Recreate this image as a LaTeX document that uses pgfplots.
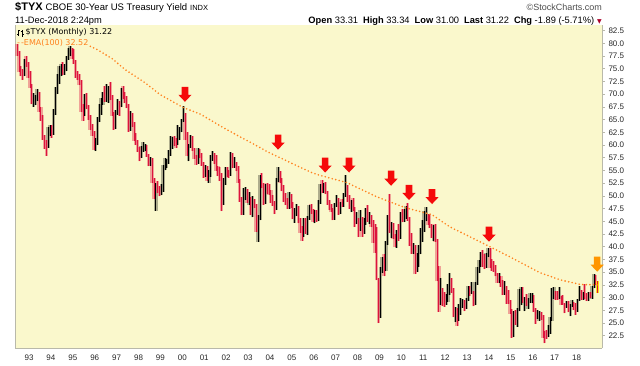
\documentclass[border=0pt]{standalone}
\usepackage{fontspec}
\setmainfont{Liberation Sans}
\newfontfamily\dejavu{DejaVu Sans}
\usepackage{pgfplots}
\pgfplotsset{compat=1.18}
\usepackage{pgfplotstable}
\definecolor{chartbg}{RGB}{250,248,204}
\definecolor{framecol}{RGB}{185,185,170}
\definecolor{upband}{RGB}{100,100,80}
\definecolor{downband}{RGB}{230,80,100}
\definecolor{downline}{RGB}{220,20,60}
\definecolor{lastband}{RGB}{255,225,0}
\definecolor{arrowred}{RGB}{245,10,10}
\definecolor{arroworange}{RGB}{255,150,0}
\definecolor{emacol}{RGB}{255,130,30}
\definecolor{trired}{RGB}{170,0,40}

\pgfdeclareplotmark{darrow}{%
  \pgfpathmoveto{\pgfpoint{0pt}{0pt}}%
  \pgfpathlineto{\pgfpoint{6.6pt}{7pt}}%
  \pgfpathlineto{\pgfpoint{3.3pt}{7pt}}%
  \pgfpathlineto{\pgfpoint{3.3pt}{15pt}}%
  \pgfpathlineto{\pgfpoint{-3.3pt}{15pt}}%
  \pgfpathlineto{\pgfpoint{-3.3pt}{7pt}}%
  \pgfpathlineto{\pgfpoint{-6.6pt}{7pt}}%
  \pgfpathclose
  \pgfusepathqfill}

\pgfplotstableread{
t o h l c
1992.46 79.5 79.9 77.6 78.0
1992.54 78.0 78.4 74.3 74.8
1992.62 74.8 75.6 73.5 74.2
1992.71 74.2 75.0 72.8 73.9
1992.79 73.9 77.0 73.5 76.5
1992.87 76.5 77.6 75.4 76.0
1992.96 76.0 76.3 73.2 73.8
1993.04 73.8 74.5 71.2 71.8
1993.12 71.8 72.0 68.0 68.5
1993.21 68.5 70.3 67.5 69.0
1993.29 69.0 69.9 67.8 69.3
1993.37 69.3 71.0 68.6 70.2
1993.46 70.2 70.5 66.5 66.8
1993.54 66.8 67.4 64.8 65.8
1993.62 65.8 66.0 61.0 61.5
1993.71 61.5 62.0 59.2 60.2
1993.79 60.2 61.0 57.9 59.8
1993.87 59.8 63.6 59.4 62.8
1993.96 62.8 64.0 61.8 63.5
1994.04 63.5 64.0 61.4 62.5
1994.12 62.5 67.0 62.0 66.5
1994.21 66.5 71.5 66.0 70.8
1994.29 70.8 74.0 70.0 73.0
1994.37 73.0 75.5 72.0 74.3
1994.46 74.3 76.0 73.5 75.5
1994.54 75.5 76.3 73.7 74.2
1994.62 74.2 75.9 73.8 75.0
1994.71 75.0 77.6 74.5 77.2
1994.79 77.2 79.0 76.8 78.2
1994.87 78.2 79.5 77.5 78.6
1994.96 78.6 79.0 77.0 78.0
1995.04 78.0 78.8 76.0 76.5
1995.12 76.5 76.8 73.2 73.8
1995.21 73.8 74.6 72.8 73.5
1995.29 73.5 74.0 71.8 72.5
1995.37 72.5 72.8 66.5 67.0
1995.46 67.0 68.0 64.8 66.2
1995.54 66.2 70.0 65.8 69.5
1995.62 69.5 70.2 67.0 67.5
1995.71 67.5 67.9 65.0 65.5
1995.79 65.5 66.0 63.0 63.5
1995.87 63.5 64.1 61.8 62.5
1995.96 62.5 62.8 59.0 59.5
1996.04 59.5 61.4 58.8 60.5
1996.12 60.5 65.5 60.0 65.0
1996.21 65.0 68.0 64.5 66.5
1996.29 66.5 69.2 66.0 68.5
1996.37 68.5 70.5 67.9 69.5
1996.46 69.5 71.6 68.5 68.9
1996.54 68.9 72.0 68.4 69.8
1996.62 69.8 71.6 68.3 70.8
1996.71 70.8 72.3 68.8 69.3
1996.79 69.3 69.8 65.8 66.3
1996.87 66.3 66.5 63.0 63.5
1996.96 63.5 66.9 63.1 66.5
1997.04 66.5 69.0 66.0 68.0
1997.12 68.0 68.6 65.8 67.8
1997.21 67.8 71.3 67.4 70.9
1997.29 70.9 71.6 69.0 69.5
1997.37 69.5 70.5 68.2 69.1
1997.46 69.1 69.6 67.2 67.8
1997.54 67.8 68.0 62.6 63.0
1997.62 63.0 66.6 62.8 66.0
1997.71 66.0 66.3 63.6 64.0
1997.79 64.0 64.5 60.8 61.5
1997.87 61.5 62.3 60.0 60.8
1997.96 60.8 61.0 58.6 59.2
1998.04 59.2 59.6 56.8 58.0
1998.12 58.0 59.8 57.5 59.2
1998.21 59.2 60.5 58.7 59.4
1998.29 59.4 60.2 58.8 59.5
1998.37 59.5 60.0 57.7 58.0
1998.46 58.0 58.3 55.8 56.3
1998.54 56.3 57.7 55.9 57.2
1998.62 57.2 57.5 52.6 53.0
1998.71 53.0 53.5 49.3 49.8
1998.79 49.8 52.6 47.1 51.6
1998.87 51.6 53.0 50.5 51.2
1998.96 51.2 51.9 49.9 50.9
1999.04 50.9 52.4 50.1 51.0
1999.12 51.0 56.1 50.8 55.7
1999.21 55.7 57.5 55.0 56.2
1999.29 56.2 57.2 55.4 56.6
1999.37 56.6 59.0 56.3 58.1
1999.46 58.1 61.8 57.9 59.7
1999.54 59.7 61.5 59.2 60.9
1999.62 60.9 61.8 59.8 60.6
1999.71 60.6 61.4 59.5 60.5
1999.79 60.5 63.9 60.1 61.6
1999.87 61.6 63.5 60.9 62.9
1999.96 62.9 65.2 62.5 64.8
2000.04 64.8 67.6 64.5 66.0
2000.12 66.0 66.3 61.0 61.5
2000.21 61.5 62.5 57.8 58.3
2000.29 58.3 60.3 56.8 59.6
2000.37 59.6 62.0 59.4 61.3
2000.46 61.3 61.7 58.8 59.0
2000.54 59.0 59.5 57.3 57.8
2000.62 57.8 58.0 56.1 56.7
2000.71 56.7 59.4 56.3 58.8
2000.79 58.8 59.3 57.4 57.9
2000.87 57.9 58.4 55.9 56.3
2000.96 56.3 56.7 53.6 54.6
2001.04 54.6 56.0 53.8 55.0
2001.12 55.0 55.9 53.0 53.3
2001.21 53.3 55.1 52.6 54.5
2001.29 54.5 58.0 53.8 57.6
2001.37 57.6 58.9 56.9 58.1
2001.46 58.1 58.5 56.3 57.5
2001.54 57.5 58.0 54.9 55.2
2001.62 55.2 55.8 53.9 54.3
2001.71 54.3 55.7 52.9 54.2
2001.79 54.2 54.6 47.0 48.8
2001.87 48.8 53.6 48.2 52.9
2001.96 52.9 55.6 52.2 54.7
2002.04 54.7 55.6 53.7 54.3
2002.12 54.3 55.0 53.6 54.2
2002.21 54.2 58.6 53.9 58.0
2002.29 58.0 58.4 55.4 56.0
2002.37 56.0 57.6 55.5 56.2
2002.46 56.2 56.6 54.8 55.2
2002.54 55.2 55.9 52.6 53.0
2002.62 53.0 53.4 48.9 49.3
2002.71 49.3 49.8 46.2 46.7
2002.79 46.7 51.5 46.3 49.8
2002.87 49.8 51.7 49.2 50.4
2002.96 50.4 51.3 48.6 49.1
2003.04 49.1 50.7 48.2 49.5
2003.12 49.5 49.8 46.2 46.7
2003.21 46.7 50.0 45.8 48.2
2003.29 48.2 49.4 47.6 48.1
2003.37 48.1 48.4 43.0 43.6
2003.46 43.6 46.2 41.0 45.6
2003.54 45.6 54.2 45.2 53.6
2003.62 53.6 54.5 51.5 52.2
2003.71 52.2 52.6 48.3 48.8
2003.79 48.8 52.4 48.4 51.5
2003.87 51.5 52.6 50.4 51.1
2003.96 51.1 52.4 50.1 50.7
2004.04 50.7 51.2 48.6 49.4
2004.12 49.4 50.2 48.0 48.6
2004.21 48.6 49.0 46.4 47.6
2004.29 47.6 53.6 47.2 53.1
2004.37 53.1 55.7 52.8 53.4
2004.46 53.4 54.8 52.5 53.1
2004.54 53.1 53.5 50.9 51.3
2004.62 51.3 52.1 48.8 49.3
2004.71 49.3 50.5 48.2 48.9
2004.79 48.9 49.6 47.5 47.9
2004.87 47.9 50.8 47.4 50.0
2004.96 50.0 50.4 47.7 48.2
2005.04 48.2 48.8 45.4 45.9
2005.12 45.9 47.6 44.7 46.6
2005.21 46.6 48.4 46.0 47.5
2005.29 47.5 48.1 44.6 45.1
2005.37 45.1 45.6 42.8 43.2
2005.46 43.2 44.0 41.2 42.1
2005.54 42.1 45.7 41.9 45.2
2005.62 45.2 45.7 42.6 43.0
2005.71 43.0 46.1 42.3 45.6
2005.79 45.6 48.2 45.3 47.5
2005.87 47.5 48.5 46.5 47.2
2005.96 47.2 47.5 44.9 45.4
2006.04 45.4 47.2 44.6 46.8
2006.12 46.8 47.2 44.9 45.3
2006.21 45.3 49.2 45.0 48.7
2006.29 48.7 52.3 48.5 51.7
2006.37 51.7 53.2 50.6 51.4
2006.46 51.4 52.6 50.5 51.9
2006.54 51.9 52.8 50.3 50.7
2006.62 50.7 51.0 48.3 48.8
2006.71 48.8 49.2 47.3 47.7
2006.79 47.7 48.5 46.8 47.2
2006.87 47.2 47.6 45.2 45.6
2006.96 45.6 48.6 45.3 48.1
2007.04 48.1 50.1 47.8 49.0
2007.12 49.0 49.6 46.3 46.8
2007.21 46.8 48.9 46.4 48.4
2007.29 48.4 49.4 47.8 48.1
2007.37 48.1 50.5 47.9 50.1
2007.46 50.1 54.2 49.8 51.2
2007.54 51.2 52.2 48.8 49.2
2007.62 49.2 50.2 47.4 48.3
2007.71 48.3 49.2 46.8 48.4
2007.79 48.4 49.5 47.0 47.5
2007.87 47.5 47.8 43.9 44.9
2007.96 44.9 46.9 44.4 45.2
2008.04 45.2 45.6 41.9 43.4
2008.12 43.4 47.2 43.1 44.4
2008.21 44.4 45.8 42.0 42.9
2008.29 42.9 45.7 42.6 44.8
2008.37 44.8 47.6 44.3 47.1
2008.46 47.1 48.2 44.9 45.3
2008.54 45.3 46.8 44.5 45.9
2008.62 45.9 46.3 43.9 44.3
2008.71 44.3 45.2 40.8 43.1
2008.79 43.1 44.4 38.8 40.4
2008.87 40.4 43.9 33.4 33.6
2008.96 33.6 33.8 25.0 26.9
2009.04 26.9 36.0 26.0 35.8
2009.12 35.8 37.9 34.8 36.9
2009.21 36.9 38.5 34.2 35.6
2009.29 35.6 41.1 35.2 40.8
2009.37 40.8 46.3 40.4 43.3
2009.46 43.3 50.4 42.7 43.2
2009.54 43.2 44.9 41.8 43.3
2009.62 43.3 44.7 41.5 41.8
2009.71 41.8 42.5 39.9 40.5
2009.79 40.5 43.3 39.8 42.4
2009.87 42.4 44.4 41.1 41.7
2009.96 41.7 46.8 41.5 46.4
2010.04 46.4 47.4 44.8 45.0
2010.12 45.0 47.4 44.8 45.7
2010.21 45.7 48.0 45.5 47.1
2010.29 47.1 48.6 45.1 45.3
2010.37 45.3 45.9 40.2 42.2
2010.46 42.2 42.8 38.6 38.9
2010.54 38.9 40.7 38.6 39.9
2010.62 39.9 40.3 34.6 35.2
2010.71 35.2 38.8 35.0 36.8
2010.79 36.8 40.4 36.1 39.9
2010.87 39.9 43.6 38.5 41.1
2010.96 41.1 45.2 41.0 43.4
2011.04 43.4 47.0 42.9 45.1
2011.12 45.1 47.9 45.0 46.1
2011.21 46.1 46.5 44.2 45.1
2011.29 45.1 46.5 43.6 43.9
2011.37 43.9 44.4 41.8 42.2
2011.46 42.2 44.2 41.2 43.8
2011.54 43.8 44.4 40.9 41.2
2011.62 41.2 41.5 33.2 36.0
2011.71 36.0 36.2 27.2 29.1
2011.79 29.1 33.8 28.6 31.5
2011.87 31.5 31.9 28.3 30.0
2011.96 30.0 31.2 28.2 28.9
2012.04 28.9 30.8 28.6 29.4
2012.12 29.4 32.6 29.2 30.9
2012.21 30.9 34.8 30.5 33.4
2012.29 33.4 33.8 30.9 31.2
2012.37 31.2 31.8 26.1 26.4
2012.46 26.4 28.2 25.3 27.5
2012.54 27.5 27.9 24.4 25.6
2012.62 25.6 28.8 25.4 26.7
2012.71 26.7 29.9 26.6 28.2
2012.79 28.2 29.7 28.0 29.1
2012.87 29.1 29.5 27.3 28.1
2012.96 28.1 29.9 27.8 29.5
2013.04 29.5 32.2 29.3 31.7
2013.12 31.7 32.3 30.3 30.9
2013.21 30.9 33.0 30.7 31.0
2013.29 31.0 31.3 28.3 28.9
2013.37 28.9 33.0 28.5 32.7
2013.46 32.7 36.0 32.5 35.0
2013.54 35.0 37.4 34.8 36.4
2013.62 36.4 38.9 36.1 37.0
2013.71 37.0 39.3 36.0 36.9
2013.79 36.9 38.6 35.6 36.2
2013.87 36.2 38.8 35.9 38.1
2013.96 38.1 39.8 37.9 39.7
2014.04 39.7 39.8 35.8 36.0
2014.12 36.0 37.6 35.3 35.9
2014.21 35.9 37.3 35.1 35.6
2014.29 35.6 36.5 34.2 34.7
2014.37 34.7 34.9 32.9 33.3
2014.46 33.3 34.9 32.8 33.6
2014.54 33.6 34.2 32.1 33.2
2014.62 33.2 33.5 30.5 30.8
2014.71 30.8 33.3 30.6 32.0
2014.79 32.0 32.2 28.8 30.7
2014.87 30.7 31.5 28.8 28.9
2014.96 28.9 29.5 26.8 27.5
2015.04 27.5 27.8 22.1 22.5
2015.12 22.5 27.4 22.2 25.9
2015.21 25.9 27.6 24.6 25.4
2015.29 25.4 27.9 24.3 27.5
2015.37 27.5 31.7 27.3 28.8
2015.46 28.8 32.1 28.5 31.2
2015.54 31.2 32.1 28.9 29.2
2015.62 29.2 30.1 27.3 29.5
2015.71 29.5 30.8 28.4 28.7
2015.79 28.7 29.9 27.8 29.2
2015.87 29.2 31.0 29.0 29.8
2015.96 29.8 30.9 28.9 30.2
2016.04 30.2 30.5 27.2 27.5
2016.12 27.5 28.0 24.9 26.1
2016.21 26.1 27.6 25.9 26.2
2016.29 26.2 27.4 25.4 26.6
2016.37 26.6 27.2 25.7 26.4
2016.46 26.4 26.6 22.1 22.9
2016.54 22.9 23.4 21.0 22.8
2016.62 22.8 23.6 21.9 22.3
2016.71 22.3 24.7 22.2 23.2
2016.79 23.2 26.2 22.9 25.8
2016.87 25.8 31.9 25.5 30.2
2016.96 30.2 32.0 29.7 30.7
2017.04 30.7 31.3 29.5 30.6
2017.12 30.6 31.4 29.6 30.0
2017.21 30.0 32.0 29.7 30.1
2017.29 30.1 30.4 28.6 29.6
2017.37 29.6 30.6 28.6 28.7
2017.46 28.7 28.9 26.9 28.4
2017.54 28.4 29.4 28.0 29.0
2017.62 29.0 29.3 27.1 27.3
2017.71 27.3 28.8 26.3 28.6
2017.79 28.6 29.5 28.2 28.8
2017.87 28.8 29.2 27.5 28.3
2017.96 28.3 28.9 26.6 27.4
2018.04 27.4 29.7 27.2 29.5
2018.12 29.5 32.3 29.3 31.3
2018.21 31.3 31.6 29.5 29.7
2018.29 29.7 31.1 29.6 31.0
2018.37 31.0 32.6 29.8 30.3
2018.46 30.3 31.0 29.3 29.8
2018.54 29.8 31.1 29.3 30.8
2018.62 30.8 31.1 29.9 30.2
2018.71 30.2 32.2 29.8 31.9
2018.79 31.9 34.6 31.8 33.9
2018.87 33.9 34.4 32.5 33.31
2018.96 33.31 33.34 31.00 31.22
}\bars

\newcommand\ohlcicon{\rule[1pt]{1.2pt}{0.5pt}\rule[-1pt]{0.5pt}{6.5pt}\rule[4pt]{1.2pt}{0.5pt}\hspace{0.6pt}\rule[3.5pt]{1.2pt}{0.5pt}\rule[-1.5pt]{0.5pt}{6.5pt}\rule[0pt]{1.2pt}{0.5pt}}

\pgfplotsset{
  ohlc/.style={draw=none, mark=none, forget plot, error bars/y dir=plus, error bars/y explicit, error bars/error mark=none},
}

\begin{document}
\begin{tikzpicture}
\useasboundingbox (0,0) rectangle (640pt,365pt);
\begin{axis}[
  at={(15pt,17pt)}, anchor=south west,
  width=587pt, height=323pt, scale only axis,
  xmin=1992.36, xmax=2019.16, ymin=20.1, ymax=83.6,
  axis background/.style={fill=chartbg},
  axis x line*=bottom, axis y line*=box,
  axis line style={draw=framecol, line width=0.7pt},
  clip mode=individual,
  xtick={1993,1994,1995,1996,1997,1998,1999,2000,2001,2002,2003,2004,2005,2006,2007,2008,2009,2010,2011,2012,2013,2014,2015,2016,2017,2018},
  xticklabels={93,94,95,96,97,98,99,00,01,02,03,04,05,06,07,08,09,10,11,12,13,14,15,16,17,18},
  ytick={22.5,25,27.5,30,32.5,35,37.5,40,42.5,45,47.5,50,52.5,55,57.5,60,62.5,65,67.5,70,72.5,75,77.5,80,82.5},
  ytick pos=right, yticklabel pos=right,
  tick align=outside, major tick length=3pt,
  x tick style={draw=none},
  y tick style={draw=framecol, line width=0.6pt},
  ticklabel style={font=\fontsize{8}{8}\selectfont, text=black!85},
  yticklabel style={/pgf/number format/fixed, /pgf/number format/fixed zerofill, /pgf/number format/precision=1},
  /pgf/number format/assume math mode=true,
]
% translucent bands (full high-low range)
\addplot[ohlc,
  restrict expr to domain={\thisrow{c}-\thisrow{o}}{0:1000},
  error bars/error bar style={draw=upband, line width=3.4pt, opacity=0.5}]
  table[x=t, y=l, y error expr=\thisrow{h}-\thisrow{l}] {\bars};
\addplot[ohlc,
  restrict x to domain=1992:2018.9,
  restrict expr to domain={\thisrow{c}-\thisrow{o}}{-1000:-0.001},
  error bars/error bar style={draw=downband, line width=3.4pt, opacity=0.5}]
  table[x=t, y=l, y error expr=\thisrow{h}-\thisrow{l}] {\bars};
\addplot[ohlc,
  restrict x to domain=2018.9:2019.1,
  error bars/error bar style={draw=lastband, line width=3.4pt, opacity=0.9}]
  table[x=t, y=l, y error expr=\thisrow{h}-\thisrow{l}] {\bars};
% bar lines
\addplot[ohlc,
  restrict expr to domain={\thisrow{c}-\thisrow{o}}{0:1000},
  error bars/error bar style={draw=black, line width=0.7pt}]
  table[x=t, y=l, y error expr=\thisrow{h}-\thisrow{l}] {\bars};
\addplot[ohlc,
  restrict expr to domain={\thisrow{c}-\thisrow{o}}{-1000:-0.001},
  error bars/error bar style={draw=downline, line width=0.7pt}]
  table[x=t, y=l, y error expr=\thisrow{h}-\thisrow{l}] {\bars};
% EMA(100)
\addplot[emacol, line width=1.8pt, dash pattern=on 0pt off 3.6pt, line cap=round] coordinates {
(1995.80,79.4) (1996.10,78.8) (1996.79,77.0) (1997.40,74.8) (1998.31,72.2)
(1998.99,69.9) (2000.03,67.4) (2000.81,66.1) (2002.04,63.0) (2003.55,59.5)
(2003.87,58.7) (2005.84,54.7) (2006.15,54.2) (2007.52,52.6) (2008.89,49.8)
(2010.17,47.7) (2011.40,46.3) (2012.22,43.9) (2014.05,40.0) (2014.96,38.0)
(2016.33,34.9) (2017.25,33.5) (2018.16,32.6) (2018.96,32.5)};
% arrows
\addplot[only marks, mark=darrow, color=arrowred] coordinates {
(2000.12,68.5) (2004.37,59.1) (2006.52,54.6) (2007.61,54.6)
(2009.53,52.0) (2010.35,49.2) (2011.40,48.4) (2014.00,41.0)};
\addplot[only marks, mark=darrow, color=arroworange] coordinates {(2018.94,35.1)};
\end{axis}
% header texts
\node[anchor=base west, inner sep=0pt] at (15pt,354pt)
  {{\bfseries\fontsize{11}{11}\selectfont \$TYX}\hspace{3pt}{\fontsize{9.5}{9.5}\selectfont CBOE 30-Year US Treasury Yield}\hspace{3pt}{\fontsize{7.5}{7.5}\selectfont INDX}};
\node[anchor=base east, inner sep=0pt, text=black!70] at (602pt,354pt)
  {\fontsize{9}{9}\selectfont \textcopyright StockCharts.com};
\node[anchor=base west, inner sep=0pt] at (15pt,341pt)
  {\fontsize{9.3}{9.3}\selectfont 11-Dec-2018 2:24pm};
\node[anchor=base east, inner sep=0pt] at (602pt,341pt)
  {\fontsize{9.3}{9.3}\selectfont \textbf{Open} 33.31\hspace{5pt}\textbf{High} 33.34\hspace{5pt}\textbf{Low} 31.00\hspace{5pt}\textbf{Last} 31.22\hspace{5pt}\textbf{Chg} -1.89 (-5.71\%)\hspace{3pt}{\dejavu\fontsize{6}{6}\selectfont\textcolor{trired}{▼}}};
% legend
\node[anchor=base west, inner sep=0pt] at (17pt,330pt)
  {\ohlcicon\hspace{2pt}{\dejavu\fontsize{8}{8}\selectfont \$TYX (Monthly) 31.22}};
\node[anchor=base west, inner sep=0pt, text=emacol] at (17pt,319pt)
  {{\dejavu\fontsize{8}{8}\selectfont -\hspace{1pt}-EMA(100) 32.52}};
\end{tikzpicture}
\end{document}
